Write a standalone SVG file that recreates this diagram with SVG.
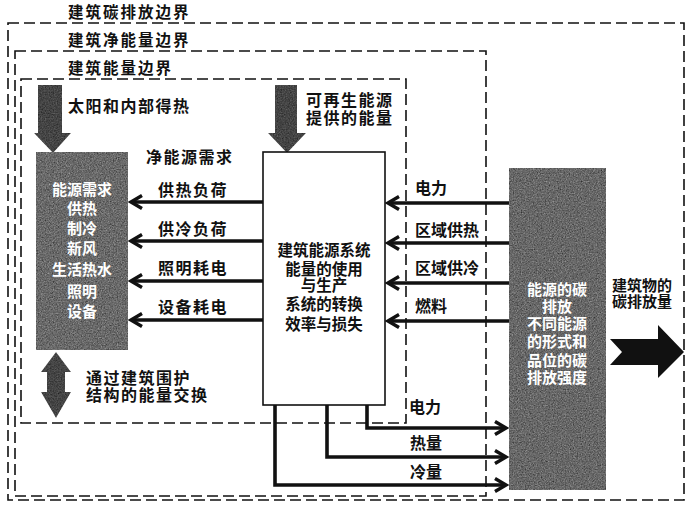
<svg xmlns="http://www.w3.org/2000/svg" width="691" height="507" viewBox="0 0 691 507">
<style>
text{font-family:"Noto Sans CJK SC","Liberation Sans",sans-serif;font-weight:700;font-size:16px;fill:#111}
.t{letter-spacing:1.5px}
.h{font-size:15.5px;letter-spacing:2px}
.w{fill:#fff;text-anchor:middle;font-size:15px}
.c{text-anchor:middle;font-size:15.5px}
.bnd{fill:none;stroke:#111;stroke-width:1.6;stroke-dasharray:11 5}
.ln{fill:none;stroke:#111;stroke-width:3.6;stroke-linejoin:miter}
</style>
<defs>
<filter id="grain" x="0" y="0" width="1" height="1" color-interpolation-filters="sRGB">
<feTurbulence type="fractalNoise" baseFrequency="0.75" numOctaves="2" seed="7" result="noise"/>
<feColorMatrix in="noise" type="matrix" values="0.33 0.33 0.33 0 0 0.33 0.33 0.33 0 0 0.33 0.33 0.33 0 0 0 0 0 0 1" result="g"/>
<feBlend in="SourceGraphic" in2="g" mode="multiply" result="m"/>
<feComposite in="m" in2="SourceGraphic" operator="in"/>
</filter>
<marker id="ah" markerUnits="userSpaceOnUse" viewBox="0 0 16 16" markerWidth="16" markerHeight="16" refX="13" refY="8" orient="auto">
<path d="M2,1.5 L13,8 L2,14.5" fill="none" stroke="#111" stroke-width="3.4"/>
</marker>
</defs>
<rect width="691" height="507" fill="#fff"/>

<g id="boundaries">
<rect class="bnd" x="8" y="23" width="676" height="477"/>
<rect class="bnd" x="15" y="51" width="471" height="445"/>
<rect class="bnd" x="21" y="79" width="385" height="344"/>
<text class="h" x="68" y="18">建筑碳排放边界</text>
<text class="h" x="68" y="46">建筑净能量边界</text>
<text class="h" x="68" y="74">建筑能量边界</text>
</g>

<g id="solar-gain">
<path d="M38,85 H62 V133 H71 L53,153 L34,133 H38 Z" fill="#8a8a8a" filter="url(#grain)"/>
<text class="t" x="68" y="112">太阳和内部得热</text>
</g>

<g id="renewable">
<path d="M275,85 H297 V133 H306 L287,153 L268,133 H275 Z" fill="#8a8a8a" filter="url(#grain)"/>
<text class="t" x="306" y="105.5">可再生能源</text>
<text class="t" x="306" y="123.5">提供的能量</text>
</g>

<g id="demand">
<rect x="36" y="152" width="92" height="198" fill="#d4d4d4" filter="url(#grain)"/>
<text class="w" x="82" y="195">能源需求</text>
<text class="w" x="82" y="214">供热</text>
<text class="w" x="82" y="234">制冷</text>
<text class="w" x="82" y="254">新风</text>
<text class="w" x="82" y="275">生活热水</text>
<text class="w" x="82" y="297">照明</text>
<text class="w" x="82" y="317">设备</text>
</g>
<text id="net-demand" class="t" x="146" y="162.5">净能源需求</text>

<g id="system">
<rect x="263" y="152" width="122" height="253" fill="#fff" stroke="#111" stroke-width="1.6"/>
<text class="c" x="324" y="255.5">建筑能源系统</text>
<text class="c" x="324" y="274.5">能量的使用</text>
<text class="c" x="324" y="290.5">与生产</text>
<text class="c" x="324" y="309.5">系统的转换</text>
<text class="c" x="324" y="329.5">效率与损失</text>
</g>

<g id="carbon">
<rect x="509" y="168" width="97" height="322" fill="#d0d0d0" filter="url(#grain)"/>
<text class="w" x="557" y="294.5">能源的碳</text>
<text class="w" x="557" y="311.5">排放</text>
<text class="w" x="557" y="328.5">不同能源</text>
<text class="w" x="557" y="346.5">的形式和</text>
<text class="w" x="557" y="365.5">品位的碳</text>
<text class="w" x="557" y="382.5">排放强度</text>
</g>

<g id="emission">
<path d="M610,339 H658 V325 L684,352 L658,378 V365 H610 L622,352 Z" fill="#111"/>
<text x="612" y="290.5" style="font-size:15px">建筑物的</text>
<text x="612" y="307" style="font-size:15px">碳排放量</text>
</g>

<g id="envelope">
<path d="M56,352 L71,372 H65 V392 H71 L56,418 L41,392 H47 V372 H41 Z" fill="#8a8a8a" filter="url(#grain)"/>
<text class="t" x="86" y="383.5">通过建筑围护</text>
<text class="t" x="86" y="400.5">结构的能量交换</text>
</g>

<g id="connectors">
<path class="ln" d="M263,202 H131" marker-end="url(#ah)"/>
<path class="ln" d="M263,241 H131" marker-end="url(#ah)"/>
<path class="ln" d="M263,281 H131" marker-end="url(#ah)"/>
<path class="ln" d="M263,320 H131" marker-end="url(#ah)"/>
<path class="ln" d="M509,203 H388" marker-end="url(#ah)"/>
<path class="ln" d="M509,243 H388" marker-end="url(#ah)"/>
<path class="ln" d="M509,283 H388" marker-end="url(#ah)"/>
<path class="ln" d="M509,321 H388" marker-end="url(#ah)"/>
<path class="ln" d="M367,405 V428 H506" marker-end="url(#ah)"/>
<path class="ln" d="M327,405 V457 H506" marker-end="url(#ah)"/>
<path class="ln" d="M275,405 V485 H506" marker-end="url(#ah)"/>
</g>

<g id="labels">
<text class="t" x="158" y="195.5">供热负荷</text>
<text class="t" x="158" y="234.5">供冷负荷</text>
<text class="t" x="158" y="273.5">照明耗电</text>
<text class="t" x="158" y="312.5">设备耗电</text>
<text x="415" y="193.5">电力</text>
<text x="415" y="235.5">区域供热</text>
<text x="415" y="273.5">区域供冷</text>
<text x="415" y="311.5">燃料</text>
<text x="409" y="412.5">电力</text>
<text x="410" y="448.5">热量</text>
<text x="410" y="477.5">冷量</text>
</g>
</svg>
